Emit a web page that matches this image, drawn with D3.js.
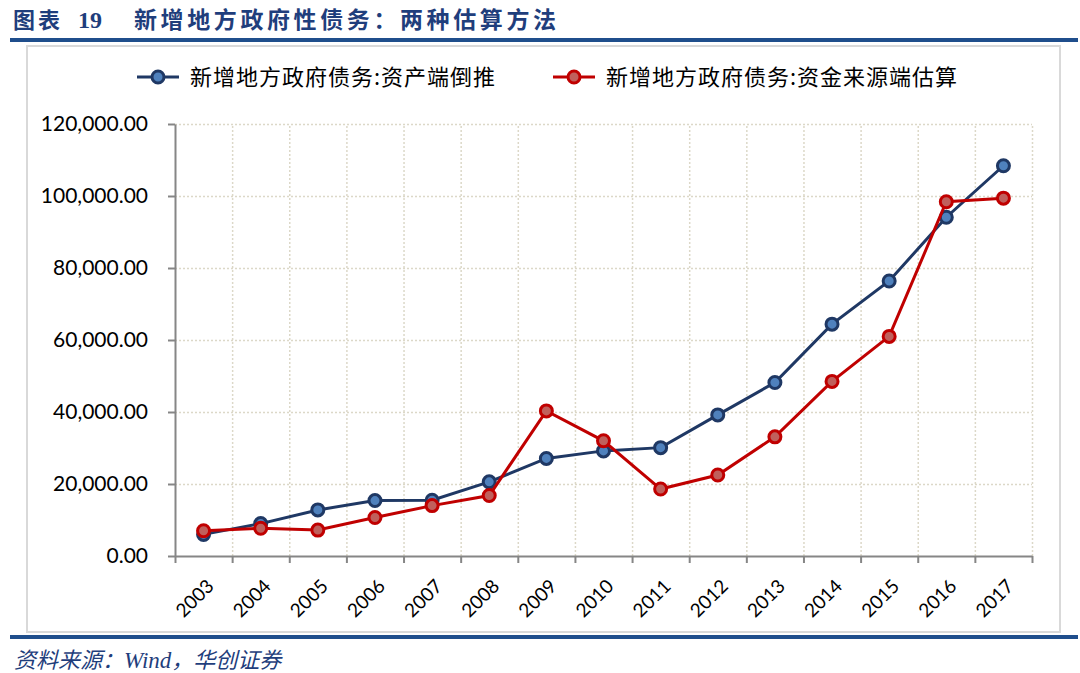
<!DOCTYPE html>
<html>
<head>
<meta charset="utf-8">
<script src="https://cdn.jsdelivr.net/npm/d3@7/dist/d3.min.js"></script>
<style>
  body { margin: 0; background: #fff; }
  svg { display: block; }
  .grid line { stroke: #dcd8c8; stroke-width: 1.5; stroke-dasharray: 2,2; }
  .grid path { display: none; }
  .axis path, .axis line { stroke: #868686; stroke-width: 2; }
  .axis text { font-family: Lato, "Liberation Sans", sans-serif; font-size: 21px; fill: #000; }
  .axis text.yearLabel { font-size: 19px; }
</style>
</head>
<body>
<div id="chart"></div>
<script>
// data
var years = ["2003", "2004", "2005", "2006", "2007", "2008", "2009", "2010", "2011", "2012", "2013", "2014", "2015", "2016", "2017"];
var assetSide = [6000, 9000, 12800, 15400, 15500, 20600, 27100, 29200, 30100, 39200, 48200, 64400, 76400, 94100, 108400];
var fundSide = [7000, 7700, 7200, 10700, 14000, 16800, 40300, 32000, 18600, 22500, 33100, 48500, 61000, 98400, 99400];
var yTicks = [0, 20000, 40000, 60000, 80000, 100000, 120000];
var seriesNames = ["新增地方政府债务:资产端倒推", "新增地方政府债务:资金来源端估算"];

var W = 1080, H = 673;
var svg = d3.select("#chart").append("svg").attr("width", W).attr("height", H);

// title + rules
svg.append("text").attr("x", 13).attr("y", 28)
  .attr("fill", "#1f3e7c").attr("font-weight", "bold").attr("font-size", 22)
  .attr("letter-spacing", 3)
  .attr("font-family", "'Noto Sans CJK SC', sans-serif")
  .text("图表");
svg.append("text").attr("x", 78).attr("y", 28)
  .attr("fill", "#1f3e7c").attr("font-weight", "bold").attr("font-size", 24)
  .attr("font-family", "'Liberation Serif', serif")
  .text("19");
svg.append("text").attr("x", 134).attr("y", 28)
  .attr("fill", "#1f3e7c").attr("font-weight", "bold").attr("font-size", 23)
  .attr("letter-spacing", 3.6)
  .attr("font-family", "'Noto Sans CJK SC', sans-serif")
  .text("新增地方政府性债务：两种估算方法");
svg.append("rect").attr("x", 10).attr("y", 38).attr("width", 1068).attr("height", 4).attr("fill", "#1f4e8c");
svg.append("rect").attr("x", 27).attr("y", 46).attr("width", 1033).attr("height", 586)
  .attr("fill", "none").attr("stroke", "#d9d9d9").attr("stroke-width", 2);
svg.append("rect").attr("x", 10).attr("y", 635).attr("width", 1068).attr("height", 4).attr("fill", "#1f4e8c");
svg.append("text").attr("x", 14).attr("y", 668)
  .attr("fill", "#1f3e7c").attr("font-size", 22).attr("font-style", "italic")
  .attr("font-family", "'Noto Sans CJK SC', sans-serif")
  .html("资料来源：<tspan font-family='Liberation Serif, serif' font-size='23'>Wind</tspan>，华创证券");

// plot area
var plotLeft = 175, plotRight = 1032, plotTop = 124, plotBottom = 556;
var x = d3.scaleBand().domain(years).range([plotLeft, plotRight]);
var y = d3.scaleLinear().domain([0, 120000]).range([plotBottom, plotTop]);
var edges = d3.scaleLinear().domain([0, years.length]).range([plotLeft, plotRight]);

// grid
svg.append("g").attr("class", "grid")
  .attr("transform", "translate(0," + plotBottom + ")")
  .call(d3.axisBottom(edges).tickValues(d3.range(1, years.length + 1))
    .tickSize(-(plotBottom - plotTop)).tickFormat(""));
svg.append("g").attr("class", "grid")
  .attr("transform", "translate(" + plotLeft + ",0)")
  .call(d3.axisLeft(y).tickValues(yTicks.slice(1)).tickSize(-(plotRight - plotLeft)).tickFormat(""));

// axes
var fmt = d3.format(",.2f");
svg.append("g").attr("class", "axis")
  .attr("transform", "translate(" + plotLeft + ",0)")
  .call(d3.axisLeft(y).tickValues(yTicks).tickSize(7).tickSizeOuter(0).tickPadding(20).tickFormat(fmt));

var xa = svg.append("g").attr("class", "axis")
  .attr("transform", "translate(0," + plotBottom + ")");
xa.call(d3.axisBottom(edges).tickValues(d3.range(0, years.length + 1))
  .tickSize(7).tickSizeOuter(0).tickFormat(""));
xa.selectAll(".yearLabel").data(years).enter().append("text")
  .attr("class", "yearLabel")
  .attr("transform", function(d){ return "translate(" + (x(d) + x.bandwidth() / 2 + 2) + ",22) rotate(-45)"; })
  .attr("text-anchor", "end").attr("dy", "0.7em")
  .text(function(d){ return d; });

// lines
var line = d3.line()
  .x(function(d, i){ return x(years[i]) + x.bandwidth() / 2; })
  .y(function(d){ return y(d); });

var series = [
  { vals: assetSide, stroke: "#1f3864", fill: "#4f81bd" },
  { vals: fundSide, stroke: "#c00000", fill: "#c0605c" }
];
// red drawn on top of blue
series.forEach(function(s){
  svg.append("path").attr("d", line(s.vals)).attr("fill", "none")
    .attr("stroke", s.stroke).attr("stroke-width", 3);
  svg.append("g").selectAll("circle").data(s.vals).enter().append("circle")
    .attr("cx", function(d, i){ return x(years[i]) + x.bandwidth() / 2; })
    .attr("cy", function(d){ return y(d); })
    .attr("r", 6).attr("fill", s.fill).attr("stroke", s.stroke).attr("stroke-width", 3);
});

// legend
var legendX = [137, 553];
series.forEach(function(s, i){
  var g = svg.append("g").attr("transform", "translate(" + legendX[i] + ",77)");
  g.append("line").attr("x1", 0).attr("x2", 42).attr("stroke", s.stroke).attr("stroke-width", 3);
  g.append("circle").attr("cx", 21).attr("r", 6).attr("fill", s.fill).attr("stroke", s.stroke).attr("stroke-width", 3);
  g.append("text").attr("x", 53).attr("dy", "0.36em")
    .attr("font-size", 22).attr("letter-spacing", 1).attr("fill", "#000")
    .attr("font-family", "'Noto Sans CJK SC', sans-serif")
    .text(seriesNames[i]);
});
</script>
</body>
</html>
